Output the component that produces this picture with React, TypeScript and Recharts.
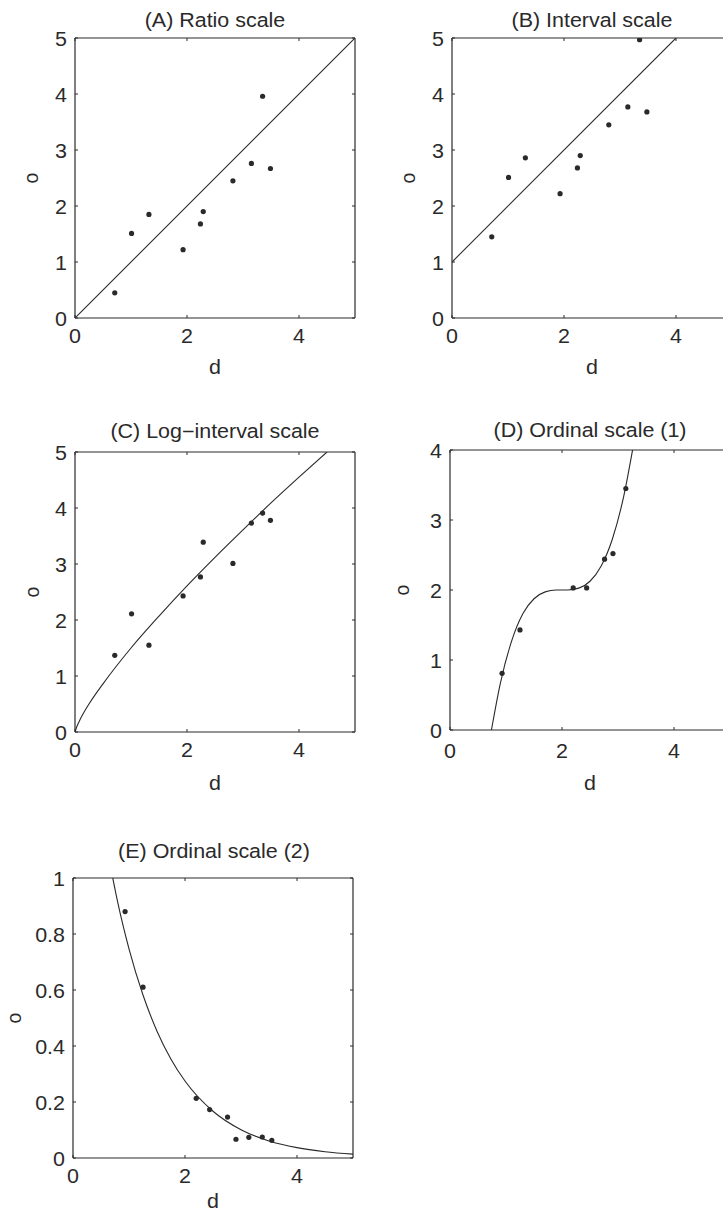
import React from 'react';
import { ComposedChart, XAxis, YAxis, Line, Scatter } from 'recharts';

type Pt = { d: number; o: number };

const xTicks = [0, 2, 4];
const yTicks5 = [0, 1, 2, 3, 4, 5];
const yTicks4 = [0, 1, 2, 3, 4];
const yTicks1 = [0, 0.2, 0.4, 0.6, 0.8, 1];

const pointsA: Pt[] = [
  { d: 0.71, o: 0.45 }, { d: 1.01, o: 1.51 }, { d: 1.32, o: 1.85 }, { d: 1.93, o: 1.22 },
  { d: 2.24, o: 1.68 }, { d: 2.29, o: 1.9 }, { d: 2.82, o: 2.45 }, { d: 3.15, o: 2.76 },
  { d: 3.35, o: 3.96 }, { d: 3.49, o: 2.67 },
];
const lineA: Pt[] = [{ d: 0, o: 0 }, { d: 5, o: 5 }];

const pointsB: Pt[] = [
  { d: 0.71, o: 1.45 }, { d: 1.01, o: 2.51 }, { d: 1.31, o: 2.86 }, { d: 1.93, o: 2.22 },
  { d: 2.24, o: 2.68 }, { d: 2.29, o: 2.9 }, { d: 2.8, o: 3.45 }, { d: 3.14, o: 3.77 },
  { d: 3.35, o: 4.97 }, { d: 3.48, o: 3.68 },
];
const lineB: Pt[] = [{ d: 0, o: 1 }, { d: 4, o: 5 }];

const pointsC: Pt[] = [
  { d: 0.71, o: 1.37 }, { d: 1.01, o: 2.11 }, { d: 1.32, o: 1.55 }, { d: 1.93, o: 2.43 },
  { d: 2.24, o: 2.77 }, { d: 2.29, o: 3.39 }, { d: 2.82, o: 3.01 }, { d: 3.15, o: 3.73 },
  { d: 3.35, o: 3.91 }, { d: 3.49, o: 3.78 },
];
const curveC: Pt[] = [
  { d: 0, o: 0 }, { d: 0.03, o: 0.09 }, { d: 0.1, o: 0.24 }, { d: 0.25, o: 0.5 },
  { d: 0.5, o: 0.86 }, { d: 1, o: 1.5 }, { d: 1.5, o: 2.07 }, { d: 2, o: 2.61 },
  { d: 2.5, o: 3.12 }, { d: 3, o: 3.61 }, { d: 3.5, o: 4.09 }, { d: 4, o: 4.55 },
  { d: 4.5, o: 5 },
];

const pointsD: Pt[] = [
  { d: 0.93, o: 0.81 }, { d: 1.25, o: 1.43 }, { d: 2.2, o: 2.03 }, { d: 2.44, o: 2.03 },
  { d: 2.76, o: 2.44 }, { d: 2.91, o: 2.52 }, { d: 3.14, o: 3.45 },
];
const curveD: Pt[] = [
  { d: 0.74, o: 0 }, { d: 0.9, o: 0.67 }, { d: 1.1, o: 1.27 }, { d: 1.3, o: 1.66 },
  { d: 1.5, o: 1.875 }, { d: 1.7, o: 1.973 }, { d: 1.9, o: 1.999 }, { d: 2.1, o: 2.001 },
  { d: 2.3, o: 2.027 }, { d: 2.5, o: 2.125 }, { d: 2.7, o: 2.343 }, { d: 2.9, o: 2.729 },
  { d: 3.1, o: 3.331 }, { d: 3.26, o: 4 },
];

const pointsE: Pt[] = [
  { d: 0.93, o: 0.88 }, { d: 1.25, o: 0.61 }, { d: 2.2, o: 0.213 }, { d: 2.44, o: 0.173 },
  { d: 2.76, o: 0.146 }, { d: 2.91, o: 0.067 }, { d: 3.14, o: 0.074 }, { d: 3.38, o: 0.075 },
  { d: 3.55, o: 0.063 },
];
const curveE: Pt[] = [
  { d: 0.71, o: 1 }, { d: 0.8, o: 0.912 }, { d: 1, o: 0.747 }, { d: 1.25, o: 0.582 },
  { d: 1.5, o: 0.453 }, { d: 1.75, o: 0.353 }, { d: 2, o: 0.275 }, { d: 2.5, o: 0.167 },
  { d: 3, o: 0.101 }, { d: 3.5, o: 0.061 }, { d: 4, o: 0.037 }, { d: 4.5, o: 0.0225 },
  { d: 5, o: 0.0137 },
];

const INK = '#2a2a2a';
const FONT = '"Liberation Sans", Arial, Helvetica, sans-serif';
const FS = 19.5;
const SX = 1.1;
const PLOT = 280;
const LW = 75;
const RW = 10;
const TH = 38;
const BH = 52;

const makeBottomTick = (off: number) => (p: any) => (
  <g>
    <line x1={p.x} y1={p.y} x2={p.x} y2={p.y - 3} stroke={INK} />
    <text
      transform={`translate(${p.x},${p.y + off}) scale(${SX},1)`}
      textAnchor="middle"
      fontSize={FS}
      fontFamily={FONT}
      fill={INK}
    >
      {p.payload.value}
    </text>
  </g>
);

const leftTick = (p: any) => (
  <g>
    <line x1={p.x} y1={p.y} x2={p.x + 3} y2={p.y} stroke={INK} />
    <text
      transform={`translate(${p.x - 8},${p.y + 1}) scale(${SX},1)`}
      textAnchor="end"
      dy="0.36em"
      fontSize={FS}
      fontFamily={FONT}
      fill={INK}
    >
      {p.payload.value}
    </text>
  </g>
);

const topTick = (p: any) => <line x1={p.x} y1={p.y} x2={p.x} y2={p.y + 3} stroke={INK} />;
const rightTick = (p: any) => <line x1={p.x} y1={p.y} x2={p.x - 3} y2={p.y} stroke={INK} />;

const dot = (p: any) => <circle cx={p.cx} cy={p.cy} r={2.6} fill={INK} />;

type PanelProps = {
  left: number;
  top: number;
  yMax: number;
  yTicks: number[];
  points: Pt[];
  curve: Pt[];
  curveType: 'linear' | 'monotone';
  labelOff?: number;
};

function Panel({ left, top, yMax, yTicks, points, curve, curveType, labelOff = 25 }: PanelProps) {
  const axis = { stroke: INK, strokeWidth: 1.2 };
  return (
    <div style={{ position: 'absolute', left: left - LW, top: top - TH }}>
      <ComposedChart
        width={LW + PLOT + RW}
        height={TH + PLOT + BH}
        margin={{ top: 0, right: 0, bottom: 0, left: 0 }}
      >
        <XAxis
          dataKey="d"
          type="number"
          domain={[0, 5]}
          ticks={xTicks}
          allowDataOverflow
          height={BH}
          axisLine={axis}
          tickLine={false}
          tickSize={0}
          tickMargin={0}
          tick={makeBottomTick(labelOff)}
          interval={0}
        />
        <XAxis
          xAxisId="top"
          orientation="top"
          dataKey="d"
          type="number"
          domain={[0, 5]}
          ticks={xTicks}
          allowDataOverflow
          height={TH}
          axisLine={axis}
          tickLine={false}
          tickSize={0}
          tickMargin={0}
          tick={topTick}
          interval={0}
        />
        <YAxis
          dataKey="o"
          type="number"
          domain={[0, yMax]}
          ticks={yTicks}
          allowDataOverflow
          width={LW}
          axisLine={axis}
          tickLine={false}
          tickSize={0}
          tickMargin={0}
          tick={leftTick}
          interval={0}
        />
        <YAxis
          yAxisId="right"
          orientation="right"
          dataKey="o"
          type="number"
          domain={[0, yMax]}
          ticks={yTicks}
          allowDataOverflow
          width={RW}
          axisLine={axis}
          tickLine={false}
          tickSize={0}
          tickMargin={0}
          tick={rightTick}
          interval={0}
        />
        <Line
          data={curve}
          dataKey="o"
          type={curveType}
          stroke={INK}
          strokeWidth={1.1}
          dot={false}
          activeDot={false}
          isAnimationActive={false}
        />
        <Scatter data={points} dataKey="o" shape={dot} isAnimationActive={false} />
      </ComposedChart>
    </div>
  );
}

const txt = { fontFamily: FONT, fontSize: FS, fill: INK } as const;

function Title({ x, y, children }: { x: number; y: number; children: string }) {
  return (
    <text {...txt} transform={`translate(${x},${y}) scale(${SX},1)`} textAnchor="middle">
      {children}
    </text>
  );
}

function YLabel({ x, y }: { x: number; y: number }) {
  return (
    <text {...txt} transform={`translate(${x},${y}) rotate(-90)`} textAnchor="middle" dy="0.27em">
      o
    </text>
  );
}

export default function App() {
  return (
    <div
      style={{
        position: 'absolute',
        left: 0,
        top: 0,
        width: 723,
        height: 1215,
        overflow: 'hidden',
        background: '#fff',
      }}
    >
      <Panel left={75} top={38} yMax={5} yTicks={yTicks5} points={pointsA} curve={lineA} curveType="linear" />
      <Panel left={452} top={38} yMax={5} yTicks={yTicks5} points={pointsB} curve={lineB} curveType="linear" />
      <Panel left={75} top={452} yMax={5} yTicks={yTicks5} points={pointsC} curve={curveC} curveType="monotone" />
      <Panel left={450} top={450} yMax={4} yTicks={yTicks4} points={pointsD} curve={curveD} curveType="monotone" labelOff={28} />
      <Panel left={73} top={878} yMax={1} yTicks={yTicks1} points={pointsE} curve={curveE} curveType="monotone" />
      <svg
        width={723}
        height={1215}
        style={{ position: 'absolute', left: 0, top: 0, pointerEvents: 'none' }}
      >
        <Title x={215} y={27}>(A) Ratio scale</Title>
        <Title x={592} y={27}>(B) Interval scale</Title>
        <Title x={215} y={438}>(C) Log−interval scale</Title>
        <Title x={590} y={437}>(D) Ordinal scale (1)</Title>
        <Title x={214} y={858}>(E) Ordinal scale (2)</Title>

        <Title x={215} y={374}>d</Title>
        <Title x={592} y={374}>d</Title>
        <Title x={215} y={790}>d</Title>
        <Title x={590} y={790}>d</Title>
        <Title x={213} y={1208}>d</Title>

        <YLabel x={33} y={178} />
        <YLabel x={410} y={178} />
        <YLabel x={34} y={592} />
        <YLabel x={404} y={590} />
        <YLabel x={16} y={1018} />
      </svg>
    </div>
  );
}
